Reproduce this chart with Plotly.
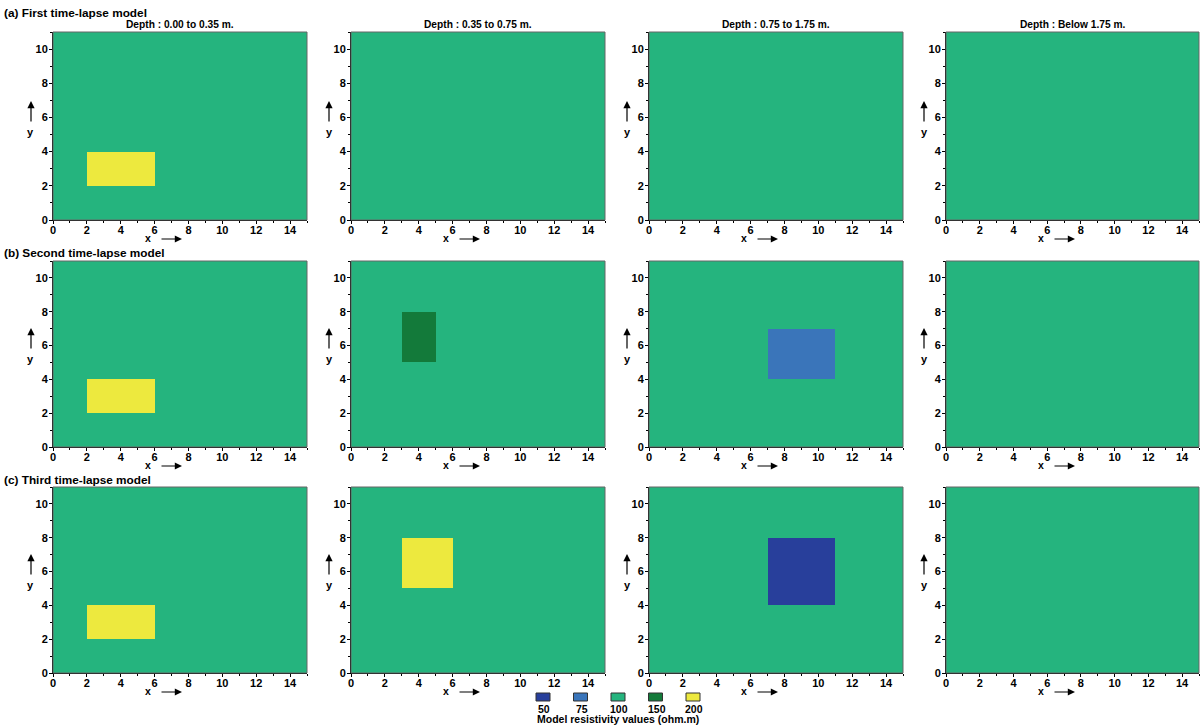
import numpy as np
import plotly.graph_objects as go

# ---------------- data ----------------
resistivity_values = [50, 75, 100, 150, 200]
resistivity_colors = ["#283F9B", "#3A75BA", "#25B47E", "#137A3A", "#EDE93E"]
background_value = 100

row_titles = ["(a) First time-lapse model", "(b) Second time-lapse model", "(c) Third time-lapse model"]
depth_titles = ["Depth : 0.00 to 0.35 m.", "Depth : 0.35 to 0.75 m.",
                "Depth : 0.75 to 1.75 m.", "Depth : Below 1.75 m."]

# anomalous blocks: row (model), column (depth), x-extent, y-extent, value
anom_row = [0, 1, 1, 1, 2, 2, 2]
anom_col = [0, 0, 1, 2, 0, 1, 2]
anom_x0 = [2, 2, 3, 7, 2, 3, 7]
anom_x1 = [6, 6, 5, 11, 6, 6, 11]
anom_y0 = [2, 2, 5, 4, 2, 5, 4]
anom_y1 = [4, 4, 8, 7, 4, 8, 8]
anom_value = [200, 200, 150, 75, 200, 200, 50]

nx, ny = 15, 11
x_ticks = list(range(0, 15, 2))
y_ticks = list(range(0, 11, 2))
legend_title = "Model resistivity values (ohm.m)"

# ---------------- layout geometry (pixels) ----------------
W, H = 1200, 727
col_left = [53, 351, 649, 946]
col_right = [307, 605, 903, 1199]
row_top = [32, 261, 487]
row_bot = [220, 447, 673]

FONT = "Liberation Sans, Arial, sans-serif"

fig = go.Figure()

n_idx = len(resistivity_values)
cs = []
for i, c in enumerate(resistivity_colors):
    cs.append([i / n_idx, c])
    cs.append([(i + 1) / n_idx, c])

xc = np.arange(nx) + 0.5
yc = np.arange(ny) + 0.5

annotations = []
shapes = []

for r in range(3):
    for c in range(4):
        k = r * 4 + c + 1
        grid = np.full((ny, nx), resistivity_values.index(background_value), dtype=float)
        for i in range(len(anom_row)):
            if anom_row[i] == r and anom_col[i] == c:
                grid[anom_y0[i]:anom_y1[i], anom_x0[i]:anom_x1[i]] = resistivity_values.index(anom_value[i])
        xa = "x" if k == 1 else f"x{k}"
        ya = "y" if k == 1 else f"y{k}"
        fig.add_trace(go.Heatmap(
            x=xc, y=yc, z=grid, colorscale=cs, zmin=-0.5, zmax=n_idx - 0.5,
            showscale=False, xaxis=xa, yaxis=ya, hoverinfo="skip"))
        axis_common = dict(
            showgrid=False, zeroline=False, showline=True, linecolor="black", linewidth=1,
            ticks="outside", ticklen=3, tickcolor="black",
            tickfont=dict(family=FONT, size=11, color="black", weight="bold"),
            minor=dict(ticks="outside", dtick=1, ticklen=2, tickcolor="black"),
            mirror=False, fixedrange=True, automargin=False)
        fig.update_layout(**{
            ("xaxis" if k == 1 else f"xaxis{k}"): dict(
                axis_common, range=[0, 15], tickvals=x_ticks, anchor=ya,
                ticklabelstandoff=-3,
                domain=[col_left[c] / W, col_right[c] / W]),
            ("yaxis" if k == 1 else f"yaxis{k}"): dict(
                axis_common, range=[0, 11], tickvals=y_ticks, anchor=xa,
                ticklabelstandoff=-1,
                domain=[1 - row_bot[r] / H, 1 - row_top[r] / H]),
        })
        # thin gray frame (top/right)
        shapes.append(dict(type="rect", xref=f"{xa} domain", yref=f"{ya} domain",
                           x0=0, x1=1, y0=0, y1=1, line=dict(color="#666666", width=1)))
        wpx = col_right[c] - col_left[c]
        hpx = row_bot[r] - row_top[r]
        # x label with arrow
        annotations.append(dict(xref=f"{xa} domain", yref=f"{ya} domain",
                                x=(148 - 53) / wpx, y=-18.5 / hpx, text="<b>x</b>", showarrow=False,
                                font=dict(family=FONT, size=10.5, color="black"),
                                xanchor="center", yanchor="middle", borderpad=0))
        annotations.append(dict(xref=f"{xa} domain", yref=f"{ya} domain",
                                x=(182 - 53) / wpx, y=-19 / hpx, ax=-22, ay=0, text="",
                                showarrow=True, arrowhead=2, arrowsize=1.2, arrowwidth=1.2,
                                arrowcolor="black"))
        # y label with arrow
        annotations.append(dict(xref=f"{xa} domain", yref=f"{ya} domain",
                                x=-22 / wpx, y=(220 - 132) / hpx, text="<b>y</b>", showarrow=False,
                                font=dict(family=FONT, size=11, color="black"),
                                xanchor="center", yanchor="middle"))
        annotations.append(dict(xref=f"{xa} domain", yref=f"{ya} domain",
                                x=-22 / wpx, y=(220 - 101) / hpx, ax=0, ay=22, text="",
                                showarrow=True, arrowhead=2, arrowsize=1.2, arrowwidth=1.2,
                                arrowcolor="black"))

# row titles
row_title_y = [13, 253, 480]
for r in range(3):
    annotations.append(dict(xref="paper", yref="paper", x=3 / W, y=1 - row_title_y[r] / H,
                            text=f"<b>{row_titles[r]}</b>", showarrow=False,
                            font=dict(family=FONT, size=11.8, color="black"),
                            xanchor="left", yanchor="middle", borderpad=0))
# depth titles
for c in range(4):
    annotations.append(dict(xref="paper", yref="paper",
                            x=(col_left[c] + col_right[c]) / 2 / W, y=1 - 24 / H,
                            text=f"<b>{depth_titles[c]}</b>", showarrow=False,
                            font=dict(family=FONT, size=10.2, color="black"),
                            xanchor="center", yanchor="middle"))

# legend (color key)
leg_x0, leg_dx = 543, 37.5
for i, (v, col) in enumerate(zip(resistivity_values, resistivity_colors)):
    cx = leg_x0 + i * leg_dx
    shapes.append(dict(type="rect", xref="paper", yref="paper",
                       x0=(cx - 7) / W, x1=(cx + 7) / W, y0=1 - 701 / H, y1=1 - 693 / H,
                       fillcolor=col, line=dict(color="#333333", width=1)))
    annotations.append(dict(xref="paper", yref="paper", x=(cx + 1) / W, y=1 - 709 / H,
                            text=f"<b>{v}</b>", showarrow=False,
                            font=dict(family=FONT, size=10.5, color="black"),
                            xanchor="center", yanchor="middle"))
annotations.append(dict(xref="paper", yref="paper", x=(leg_x0 + 2 * leg_dx) / W, y=1 - 719 / H,
                        text=f"<b>{legend_title}</b>", showarrow=False,
                        font=dict(family=FONT, size=10.5, color="black"),
                        xanchor="center", yanchor="middle"))

fig.update_layout(width=W, height=H, margin=dict(l=0, r=0, t=0, b=0),
                  paper_bgcolor="white", plot_bgcolor="white", showlegend=False,
                  annotations=annotations, shapes=shapes)

fig.write_html("out.html", config={"displayModeBar": False},
               post_script="document.body.style.margin='0px';document.body.style.overflow='hidden';")
